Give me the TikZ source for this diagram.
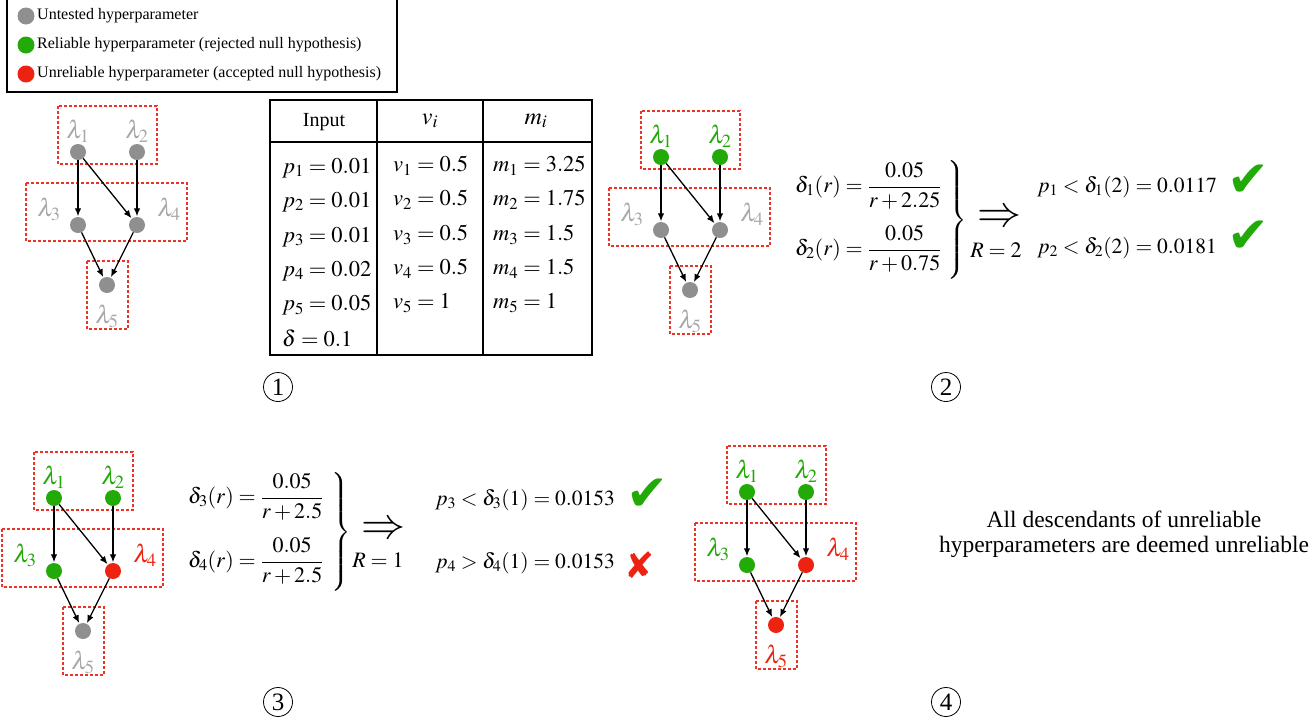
\documentclass[tikz,border=0pt]{standalone}
\usepackage{amsmath}
\usepackage{mathptmx}
\usepackage[no-math]{fontspec}
\setmainfont{Liberation Serif}
\newfontfamily\symfont{DejaVu Sans}
\usetikzlibrary{arrows.meta}
\definecolor{hgray}{RGB}{143,143,143}
\definecolor{lgray}{RGB}{168,168,168}
\definecolor{hgreen}{RGB}{34,170,8}
\definecolor{hred}{RGB}{238,34,17}
\definecolor{boxred}{RGB}{238,50,40}
\newcommand\fsz[1]{\fontsize{#1}{#1}\selectfont}
\tikzset{
  dotg/.style={circle,fill=hgray,minimum size=16pt,inner sep=0pt},
  dotG/.style={circle,fill=hgreen,minimum size=16pt,inner sep=0pt},
  dotR/.style={circle,fill=hred,minimum size=16pt,inner sep=0pt},
  labg/.style={text=lgray,font=\fsz{25},inner sep=0pt},
  labG/.style={text=hgreen,font=\fsz{25},inner sep=0pt},
  labR/.style={text=hred,font=\fsz{25},inner sep=0pt},
  grp/.style={draw=boxred,line width=1.3pt,dash pattern=on 3pt off 2pt},
  arr/.style={-{Latex[length=8pt,width=6.5pt]},line width=1.3pt,shorten >=0.5pt},
  legtext/.style={anchor=west,font=\fsz{16},inner sep=0pt},
  legdot/.style={circle,minimum size=17pt,inner sep=0pt},
  thead/.style={font=\fsz{20},inner sep=0pt},
  tmath/.style={font=\fsz{24},inner sep=0pt},
  tcell/.style={anchor=west,font=\fsz{22.5},inner sep=0pt},
  eq/.style={anchor=base west,font=\fsz{22},inner sep=0pt},
  cmp/.style={anchor=west,font=\fsz{21.5},inner sep=0pt},
  brc/.style={inner sep=0pt,font=\fsz{22}},
  impl/.style={inner sep=0pt,font=\fsz{44}},
  rlab/.style={inner sep=0pt,font=\fsz{22}},
  okmark/.style={inner sep=0pt,text=hgreen,font=\symfont\fsz{50}},
  nomark/.style={inner sep=0pt,text=hred,font=\symfont\fsz{36}},
  circnum/.style={circle,draw,line width=0.8pt,minimum size=29pt,inner sep=0pt,font=\fsz{25}},
  note/.style={align=center,font=\fontsize{23.5}{25}\selectfont,inner sep=0pt}
}
\newcommand\hypergraph[8]{%
  \begin{scope}[shift={(#2,#3)}]
    \draw[grp] (58,106) rectangle (157,164);
    \draw[grp] (26,183) rectangle (187,241);
    \draw[grp] (87,261) rectangle (128,329);
    \node[dot#4] (#1d1) at (78,152) {};
    \node[dot#5] (#1d2) at (137,152) {};
    \node[dot#6] (#1d3) at (78,225) {};
    \node[dot#7] (#1d4) at (137,225) {};
    \node[dot#8] (#1d5) at (107,285) {};
    \node[lab#4] (#1l1) at (78,131) {$\lambda_1$};
    \node[lab#5] (#1l2) at (137,131) {$\lambda_2$};
    \node[lab#6] (#1l3) at (49,209) {$\lambda_3$};
    \node[lab#7] (#1l4) at (169,209) {$\lambda_4$};
    \node[lab#8] (#1l5) at (107,316) {$\lambda_5$};
    \draw[arr] (#1d1) -- (#1d3);
    \draw[arr] (#1d1) -- (#1d4);
    \draw[arr] (#1d2) -- (#1d4);
    \draw[arr] (#1d3) -- (#1d5);
    \draw[arr] (#1d4) -- (#1d5);
  \end{scope}}
\begin{document}
\begin{tikzpicture}[x=1pt,y=-1pt]
\useasboundingbox[fill=white] (0,0) rectangle (1314,721);
% legend
\draw[line width=1.3pt] (7,-5) rectangle (397,92);
\node[legdot,fill=hgray] (lg1) at (26,16) {};
\node[legdot,fill=hgreen] (lg2) at (26,45) {};
\node[legdot,fill=hred] (lg3) at (26,74) {};
\node[legtext] (lt1) at (37,16) {Untested hyperparameter};
\node[legtext] (lt2) at (37,45) {Reliable hyperparameter (rejected null hypothesis)};
\node[legtext] (lt3) at (37,74) {Unreliable hyperparameter (accepted null hypothesis)};
% graphs
\hypergraph{a}{0}{0}{g}{g}{g}{g}{g}
\hypergraph{b}{583}{5}{G}{G}{g}{g}{g}
\hypergraph{c}{-24}{346}{G}{G}{G}{R}{g}
\hypergraph{e}{669}{340}{G}{G}{G}{R}{R}
% table
\draw[line width=1.2pt] (270,100) rectangle (592,355);
\draw[line width=1.2pt] (270,142) -- (592,142);
\draw[line width=1.2pt] (377,100) -- (377,355);
\draw[line width=1.2pt] (483,100) -- (483,355);
\node[thead] (h1) at (324,122) {Input};
\node[tmath] (h2) at (430,121) {$v_i$};
\node[tmath] (h3) at (536,121) {$m_i$};
\node[tcell] (p1) at (282,168) {$p_1=0.01$};
\node[tcell] (p2) at (282,202) {$p_2=0.01$};
\node[tcell] (p3) at (282,237) {$p_3=0.01$};
\node[tcell] (p4) at (282,271) {$p_4=0.02$};
\node[tcell] (p5) at (282,305) {$p_5=0.05$};
\node[tcell] (dl) at (282,338) {$\delta=0.1$};
\node[tcell] (v1) at (393,166) {$v_1=0.5$};
\node[tcell] (v2) at (393,200) {$v_2=0.5$};
\node[tcell] (v3) at (393,235) {$v_3=0.5$};
\node[tcell] (v4) at (393,269) {$v_4=0.5$};
\node[tcell] (v5) at (393,303) {$v_5=1$};
\node[tcell] (m1) at (493,166) {$m_1=3.25$};
\node[tcell] (m2) at (493,200) {$m_2=1.75$};
\node[tcell] (m3) at (493,235) {$m_3=1.5$};
\node[tcell] (m4) at (493,269) {$m_4=1.5$};
\node[tcell] (m5) at (493,303) {$m_5=1$};
% step 2 formulas
\node[eq] (f1) at (795,192.5) {$\delta_1(r)=\dfrac{0.05}{r+2.25}$};
\node[eq] (f2) at (795,255.5) {$\delta_2(r)=\dfrac{0.05}{r+0.75}$};
\node[brc] (b1) at (957,220) {$\left.\vrule height 52pt depth 52pt width 0pt\right\}$};
\node[impl] (i1) at (999,218) {$\Rightarrow$};
\node[rlab] (r1) at (996,250) {$R=2$};
\node[cmp] (c1) at (1037,187) {$p_1<\delta_1(2)=0.0117$};
\node[cmp] (c2) at (1037,248) {$p_2<\delta_2(2)=0.0181$};
\node[okmark] (k1) at (1248,181) {✔};
\node[okmark] (k2) at (1248,237) {✔};
% step 3 formulas
\node[eq] (f3) at (188,503.5) {$\delta_3(r)=\dfrac{0.05}{r+2.5}$};
\node[eq] (f4) at (188,567.5) {$\delta_4(r)=\dfrac{0.05}{r+2.5}$};
\node[brc] (b2) at (341,532) {$\left.\vrule height 52pt depth 52pt width 0pt\right\}$};
\node[impl] (i2) at (383,530) {$\Rightarrow$};
\node[rlab] (r2) at (378,560) {$R=1$};
\node[cmp] (c3) at (435,500) {$p_3<\delta_3(1)=0.0153$};
\node[cmp] (c4) at (435,563) {$p_4>\delta_4(1)=0.0153$};
\node[okmark] (k3) at (647,495) {✔};
\node[nomark] (x4) at (640,565) {✘};
% note
\node[note] (nt) at (1124,534) {All descendants of unreliable\\hyperparameters are deemed unreliable};
% step numbers
\node[circnum] (n1) at (278,387) {1};
\node[circnum] (n2) at (946,387) {2};
\node[circnum] (n3) at (278,702) {3};
\node[circnum] (n4) at (946,702) {4};
\end{tikzpicture}
\end{document}
